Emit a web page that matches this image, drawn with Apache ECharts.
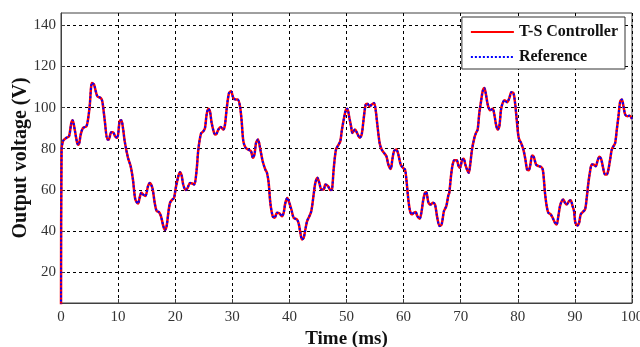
<!DOCTYPE html>
<html>
<head>
<meta charset="utf-8">
<script src="https://cdn.jsdelivr.net/npm/echarts@6/dist/echarts.min.js"></script>
<style>
html,body{margin:0;padding:0;background:#fff;}
#chart{width:640px;height:347px;}
</style>
</head>
<body>
<div id="chart"></div>
<script>
const xTicks = [0,10,20,30,40,50,60,70,80,90,100];
const yTicks = [20,40,60,80,100,120,140];
const seriesNames = ['T-S Controller','Reference'];

const timeMs = [0,0.1,0.35,0.93,1.4,1.81,2.04,2.4,2.86,3.1,3.45,3.85,4.44,4.73,5.02,5.43,5.78,6.36,6.95,7.24,7.65,8.12,8.35,8.8,9.1,9.5,9.86,10.27,10.56,10.86,11.15,11.73,12.2,12.6,13.02,13.49,13.77,14.07,14.36,14.77,15.24,15.53,16.0,16.41,16.75,17.16,17.5,17.92,18.21,18.5,18.8,19.09,19.5,19.8,20.1,20.55,20.84,21.13,21.4,21.83,22.18,22.59,22.99,23.35,23.76,24.05,24.52,24.93,25.22,25.5,25.8,26.09,26.38,26.85,27.14,27.55,27.96,28.43,28.72,29.0,29.42,29.77,30.18,30.59,30.94,31.35,31.64,31.93,32.34,32.81,33.27,33.6,33.9,34.15,34.5,34.91,35.32,35.78,36.07,36.37,36.66,37.07,37.42,37.83,38.24,38.7,39.0,39.29,39.64,39.99,40.34,40.75,41.33,41.62,41.92,42.2,42.5,42.8,43.1,43.5,43.84,44.25,44.54,44.9,45.24,45.6,46.0,46.3,46.76,47.17,47.46,47.75,48.16,48.62,48.92,49.2,49.57,49.9,50.15,50.5,50.8,51.02,51.49,51.9,52.3,52.66,53.06,53.36,53.65,54.06,54.41,54.82,55.1,55.4,55.8,56.16,56.57,56.98,57.33,57.74,58.03,58.32,58.73,59.08,59.49,59.9,60.25,60.49,60.83,61.13,61.42,61.82,62.11,62.41,62.82,63.16,63.4,63.75,63.98,64.33,64.74,65.15,65.5,65.9,66.3,66.66,67.07,67.48,67.83,68.0,68.3,68.59,68.88,69.29,69.64,69.88,70.23,70.52,70.81,71.1,71.4,71.63,71.98,72.39,72.68,72.97,73.26,73.56,73.85,74.14,74.43,74.73,75.14,75.6,75.89,76.19,76.48,76.77,77.06,77.36,77.71,78.12,78.52,78.88,79.23,79.52,79.81,80.16,80.57,80.98,81.33,81.62,81.91,82.21,82.5,82.79,83.2,83.67,84.08,84.37,84.6,84.76,85.06,85.35,85.76,86.11,86.51,86.81,87.1,87.39,87.68,87.97,88.27,88.56,88.97,89.26,89.56,89.85,90.08,90.43,90.73,91.02,91.37,91.78,92.07,92.36,92.66,92.95,93.24,93.65,93.94,94.29,94.59,94.88,95.29,95.58,95.87,96.17,96.46,96.75,97.05,97.34,97.63,97.93,98.22,98.51,98.81,99.22,99.57,100];

const referenceV = [0,79,83.7,85.3,86,92.6,93.9,89.3,82.5,82,86.9,90.1,90.9,94.2,100.6,112,111.2,105.5,104.7,103,94,84.5,84.5,88,88,86,85.3,93.4,93.9,90,83.7,75.6,71.5,65,55.3,53.4,56.1,58.6,57.8,57,61.8,63.4,61,53.7,49.7,49.2,47.2,42.4,40.5,42.4,48.9,53.7,55.3,56.1,61,66.7,68.6,67,62.6,59.9,61,63.4,63.1,62.6,69.9,79.6,87.4,88.5,90.1,96.6,99.4,98.2,92.6,87.4,86.9,89.3,90.6,89.3,91.7,99,107.1,107.9,104.7,103.9,103.9,100.6,93.4,83.7,80.4,79.6,78.8,75.6,77.5,82.8,84.5,79.6,73.9,69.9,68.3,63.4,53.7,47.2,46.4,48.9,48.6,47.2,48.9,53.7,56.1,53.7,50.5,46.4,45.6,43.7,39.2,35.9,36.7,40.8,44.8,47.2,49.7,57.8,63.4,65.9,63.4,60.2,60.2,62.6,61.8,59.9,60.2,69.9,79.6,82,83.7,89.3,95,99,99.4,95,90.9,87.7,89.3,87.4,85.3,86.9,95.8,101.5,101.9,100.6,101.5,102.3,99,91.7,82.8,79.6,78,76.4,72.3,70.2,74.8,78.8,79.6,77.2,72.3,70.7,69.9,65,55.3,49.7,48.1,48.9,49.2,47.2,46,49.7,54.5,58.6,58.9,54,52.9,53.7,52.9,46.4,42.4,43.2,49.7,52.1,57.3,58.6,66.7,72.3,74.4,74.4,71.5,70.7,74.4,75.1,72.3,69.9,68.3,71.5,79.6,85.3,87.7,89.3,97.4,103,108,109.5,106.3,101.5,98.7,99.4,96.6,91.7,89.3,90.9,99,102.3,103.6,102.6,104.7,107.5,107.1,102.3,94.2,85.3,82.8,79.6,74.8,69.9,69.6,72.3,76.7,76.1,72.3,71.5,71.2,69.9,64,58.6,52.1,48.9,48.1,46.4,44,43.2,47.2,52.1,54.5,55.3,53.7,52.9,54.5,55,52.4,49.7,44,42.7,44,48.1,49.2,50.5,56.1,63.4,69.1,72.3,72.3,71.5,73.9,76.1,75.1,71.5,67.5,67.5,69.9,74.8,79.6,81.2,82.8,89.3,95.8,103,103.9,100.6,96.6,95.8,96.1,94.5];

// The controller output tracks the reference exactly in the picture
const controllerV = referenceV;

const pairs = (xs, ys) => xs.map((x, i) => [x, ys[i]]);

const serif = 'Liberation Serif';
const chart = echarts.init(document.getElementById('chart'));
chart.setOption({
  animation: false,
  backgroundColor: '#ffffff',
  grid: { left: 61, right: 8, top: 13, bottom: 44, outerBoundsMode: 'none', containLabel: false, show: true, borderColor: '#404040', borderWidth: 1, backgroundColor: 'transparent' },
  legend: {
    orient: 'vertical',
    right: 15, top: 17,
    backgroundColor: '#ffffff',
    borderColor: '#333333', borderWidth: 1,
    padding: [7, 7, 4, 8],
    itemWidth: 43, itemHeight: 16, itemGap: 9,
    itemStyle: { opacity: 0 },
    textStyle: { fontFamily: serif, fontWeight: 'bold', fontSize: 16, color: '#111111' },
    data: seriesNames
  },
  xAxis: {
    type: 'value', min: 0, max: 100, interval: 10,
    name: 'Time (ms)', nameLocation: 'middle', nameGap: 27, nameMoveOverlap: false,
    nameTextStyle: { fontFamily: serif, fontWeight: 'bold', fontSize: 19, color: '#111111' },
    axisLine: { show: true, onZero: false, lineStyle: { color: '#404040', width: 1 } },
    axisTick: { show: true, inside: true, length: 4, lineStyle: { color: '#404040' } },
    axisLabel: { fontFamily: serif, fontSize: 15, color: '#333333', margin: 7, customValues: xTicks },
    splitLine: { show: true, lineStyle: { color: '#000000', type: [3, 3], width: 1 } }
  },
  yAxis: {
    type: 'value', min: 5, max: 146,
    name: 'Output voltage (V)', nameLocation: 'middle', nameGap: 30, nameMoveOverlap: false,
    nameTextStyle: { fontFamily: serif, fontWeight: 'bold', fontSize: 20, color: '#111111' },
    axisLine: { show: true, onZero: false, lineStyle: { color: '#404040', width: 1 } },
    axisTick: { show: true, inside: true, length: 4, lineStyle: { color: '#404040' }, customValues: yTicks },
    axisLabel: { fontFamily: serif, fontSize: 15, color: '#333333', margin: 5, customValues: yTicks },
    splitLine: { show: true, lineStyle: { color: '#000000', type: [3, 3], width: 1 } }
  },
  series: [
    {
      name: seriesNames[0], type: 'line', showSymbol: false, symbol: 'none', smooth: 0.3,
      data: pairs(timeMs, controllerV),
      lineStyle: { color: '#ff0000', width: 2.5, type: 'solid' },
      itemStyle: { color: '#ff0000' }
    },
    {
      name: seriesNames[1], type: 'line', showSymbol: false, symbol: 'none', smooth: 0.3,
      data: pairs(timeMs, referenceV),
      lineStyle: { color: '#0000ff', width: 2, type: [2, 2] },
      itemStyle: { color: '#0000ff' }
    }
  ]
});
</script>
</body>
</html>
